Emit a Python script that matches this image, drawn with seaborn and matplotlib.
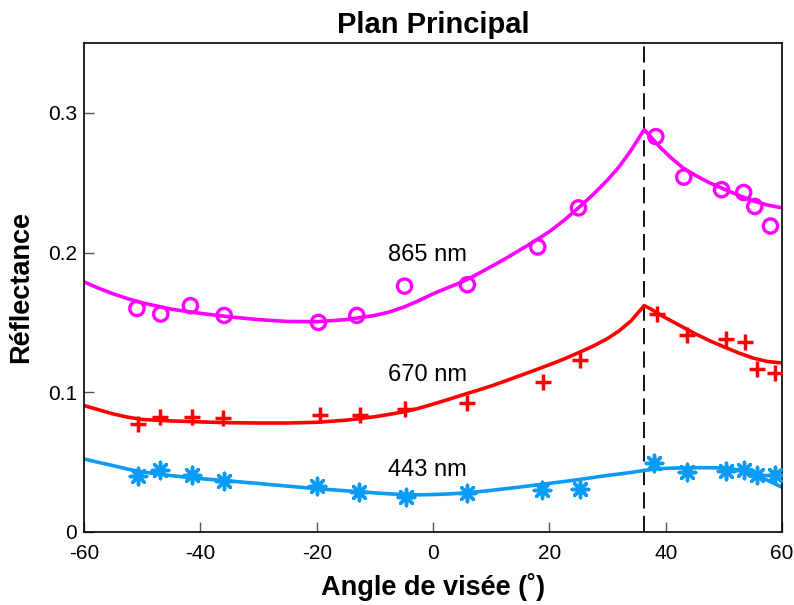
import numpy as np
import pandas as pd
import matplotlib
matplotlib.use("Agg")
import matplotlib.pyplot as plt
import seaborn as sns

# ---- Measured data ----
ang_865 = [-50.9, -46.8, -41.7, -35.9, -19.7, -13.1, -4.9, 5.9, 18.0, 25.0, 38.3, 43.1, 49.6, 53.4, 55.3, 58.0]
ref_865 = [0.160, 0.156, 0.162, 0.155, 0.150, 0.155, 0.176, 0.177, 0.204, 0.232, 0.283, 0.254, 0.245, 0.243, 0.233, 0.219]

ang_670 = [-50.8, -47.0, -41.5, -36.1, -19.4, -12.5, -4.9, 5.9, 18.9, 25.3, 38.5, 43.6, 50.3, 53.7, 55.7, 58.8]
ref_670 = [0.0774, 0.0824, 0.0824, 0.0817, 0.0839, 0.0839, 0.0882, 0.0925, 0.1075, 0.1233, 0.156, 0.141, 0.138, 0.136, 0.117, 0.114]

ang_443 = [-50.8, -47.0, -41.5, -36.0, -19.9, -12.7, -4.6, 5.9, 18.7, 25.3, 38.0, 43.6, 50.4, 53.5, 55.7, 58.8]
ref_443 = [0.0401, 0.0444, 0.0409, 0.0366, 0.0330, 0.0287, 0.0251, 0.0280, 0.0301, 0.0308, 0.0495, 0.0430, 0.0437, 0.0444, 0.0409, 0.0409]

# ---- Fitted model curves ----
fit_ang = [-60, -57.5, -55, -52.5, -50, -45, -40, -35, -30, -25, -20, -15, -10, -7.5, -5, -2.5, 0, 2.5, 5, 7.5, 10,
           12.5, 15, 17.5, 20, 22.5, 25, 27.5, 30, 32, 34, 36.3,
           37.5, 39, 41, 43, 45, 47.5, 50, 52.5, 55, 57.5, 60]
fit_865 = [0.179, 0.1745, 0.1705, 0.167, 0.164, 0.1595, 0.1565, 0.154, 0.152, 0.1507, 0.1505, 0.152, 0.155, 0.1575, 0.161, 0.1655, 0.1705, 0.1748, 0.179, 0.1843, 0.190,
           0.1958, 0.202, 0.2083, 0.215, 0.2230, 0.2320, 0.2415, 0.2520, 0.2615, 0.2730, 0.288,
           0.2825, 0.2755, 0.2675, 0.2605, 0.2555, 0.2500, 0.2455, 0.2410, 0.2370, 0.2340, 0.2320]
fit_670 = [0.0905, 0.0875, 0.0845, 0.0822, 0.0805, 0.0795, 0.0788, 0.0782, 0.0780, 0.0780, 0.0785, 0.0800, 0.0825, 0.0842, 0.0860, 0.0885, 0.0915, 0.0947, 0.0980, 0.1012, 0.1045,
           0.1082, 0.1120, 0.1158, 0.1197, 0.1238, 0.1283, 0.1330, 0.1385, 0.1440, 0.1510, 0.1620,
           0.1595, 0.1555, 0.1510, 0.1465, 0.1420, 0.1370, 0.1325, 0.1282, 0.1245, 0.1220, 0.1210]
fit_443 = [0.0523, 0.0498, 0.0475, 0.0450, 0.0430, 0.0403, 0.0382, 0.0365, 0.0347, 0.0328, 0.0310, 0.0295, 0.0280, 0.0273, 0.0268, 0.0266, 0.0268, 0.0272, 0.0278, 0.0287, 0.0298,
           0.0310, 0.0322, 0.0335, 0.0348, 0.0361, 0.0375, 0.0390, 0.0405, 0.0415, 0.0426, 0.0440,
           0.0447, 0.0453, 0.0457, 0.0459, 0.0460, 0.0460, 0.0458, 0.0445, 0.0415, 0.0370, 0.0320]

labels = ["865 nm", "670 nm", "443 nm"]
label_pos_x = [-1.0, -1.0, -1.0]
label_pos_y = [0.198, 0.1125, 0.0444]
x_ticks = [-60, -40, -20, 0, 20, 40, 60]
y_ticks = [0, 0.1, 0.2, 0.3]
y_tick_labels = ["0", "0.1", "0.2", "0.3"]
solar_angle = 36.3

sns.set_theme(style="white")
plt.rcParams['font.family'] = ['Liberation Sans', 'DejaVu Sans']
plt.rcParams['text.color'] = 'black'
plt.rcParams['axes.labelcolor'] = 'black'

fig = plt.figure(figsize=(7.94, 6.05), dpi=100)
ax = fig.add_axes([0.1058, 0.1207, 0.985 - 0.1058, 0.9289 - 0.1207])

colors = ["#ff00ff", "#ff0000", "#0a9bf5"]
fits = [fit_865, fit_670, fit_443]
meas = [(ang_865, ref_865, 'o'), (ang_670, ref_670, '+'), (ang_443, ref_443, (8, 2, 0))]

for c, f, (a, r, m) in zip(colors, fits, meas):
    df_fit = pd.DataFrame({"x": fit_ang, "y": f})
    sns.lineplot(data=df_fit, x="x", y="y", ax=ax, color=c, lw=2.6, sort=False, estimator=None)
    df_m = pd.DataFrame({"x": a, "y": r})
    if m == 'o':
        sns.scatterplot(data=df_m, x="x", y="y", ax=ax, marker='o', s=105,
                        facecolors='none', edgecolor=c, linewidth=2.4, zorder=5)
    else:
        sns.scatterplot(data=df_m, x="x", y="y", ax=ax, marker=m, s=140,
                        color=c, linewidth=2.5, zorder=5)

ax.axvline(solar_angle, color='black', lw=1.3, dashes=(9, 4), zorder=1)

for t, lx, ly in zip(labels, label_pos_x, label_pos_y):
    ax.text(lx, ly, t, fontsize=17, ha='center', va='center', color='black')

ax.set_xlim(-60, 60)
ax.set_ylim(0, 0.35)
ax.set_xticks(x_ticks)
ax.set_xticklabels([str(v) for v in x_ticks])
ax.set_yticks(y_ticks)
ax.set_yticklabels(y_tick_labels)
ax.tick_params(direction='in', length=7, width=1, colors='#555555', labelcolor='black',
               labelsize=15, bottom=True, left=True, top=False, right=False)
ax.tick_params(axis='x', pad=9)
ax.tick_params(axis='y', pad=5)
for s in ax.spines.values():
    s.set_color('black')
    s.set_linewidth(1.2)

ax.set_xlabel("Angle de visée (˚)", fontsize=19.5, fontweight='bold', labelpad=7)
ax.set_ylabel("Réflectance", fontsize=19.5, fontweight='bold', labelpad=10)
ax.set_title("Plan Principal", fontsize=21, fontweight='bold', pad=7)

fig.savefig("out.png", dpi=100)
